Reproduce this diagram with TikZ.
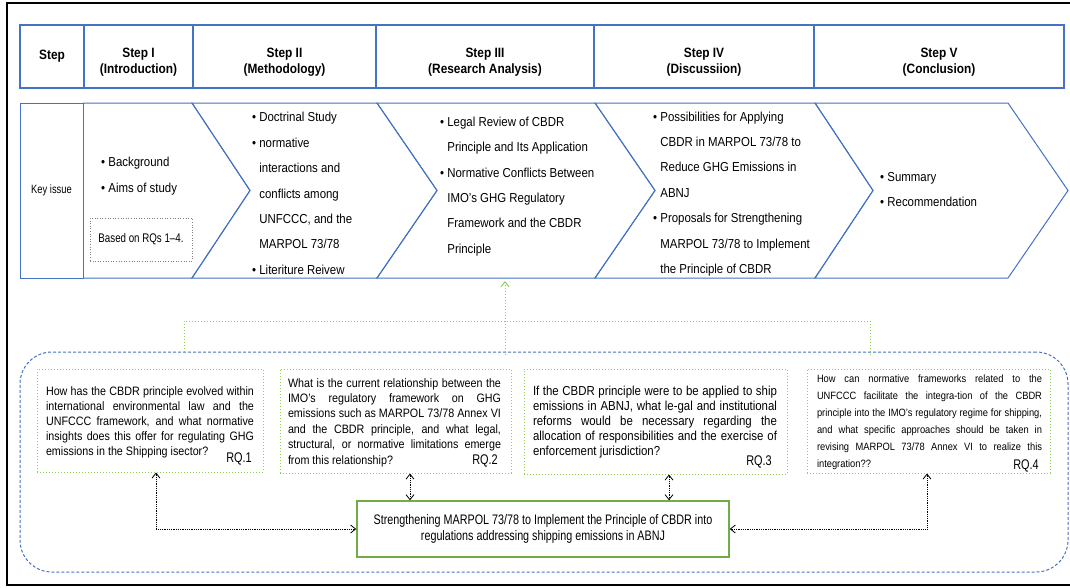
\documentclass[tikz,border=0pt]{standalone}
\usepackage{fontspec}
\setmainfont{Liberation Sans}[FakeStretch=0.88]
\newfontfamily\narrowsf{Liberation Sans}[FakeStretch=0.78]
\usetikzlibrary{arrows.meta}
\definecolor{stepblue}{HTML}{4472C4}
\definecolor{rqgreen}{HTML}{92D050}
\definecolor{coregreen}{HTML}{70AD47}
\tolerance=10000 \hbadness=10000
\hyphenpenalty=10000 \exhyphenpenalty=10000

\begin{document}
\begin{tikzpicture}[x=1pt, y=-1pt,
    head/.style = {draw=stepblue, line width=1.2pt, minimum height=63pt, inner sep=0pt},
    headtxt/.style = {align=center, inner sep=0pt, font=\fontsize{13.5}{16}\selectfont\bfseries},
    chev/.style = {draw=stepblue, line width=1pt, line join=miter},
    pts/.style = {anchor=west, inner sep=0pt, align=left, font=\fontsize{13}{25.4}\selectfont},
    rqbox/.style = {draw=rqgreen, dotted, line width=1pt, inner sep=0pt},
    rqtext/.style = {inner sep=0pt, align=justify},
    rqlab/.style = {anchor=east, inner sep=0pt, font=\narrowsf\fontsize{14}{16}\selectfont},
    link/.style = {densely dotted, line width=0.8pt,
        {Straight Barb[length=5pt,width=8pt]}-{Straight Barb[length=5pt,width=8pt]}},
    feed/.style = {draw=rqgreen, dotted, line width=1pt}]
    \useasboundingbox (0,0) rectangle (1070,587);
    \draw[line width=2pt] (7,3) rectangle (1080,585);

    % header row
    \node[head, minimum width=64pt] (h0) at (52,56.5) {};
    \node[headtxt] (t0) at (h0) {Step};
    \foreach \i/\cx/\w/\txt in {1/138.5/109/{Step I\\(Introduction)},
        2/284.5/183/{Step II\\(Methodology)}, 3/485/218/{Step III\\(Research Analysis)},
        4/704/220/{Step IV\\(Discussiion)}, 5/939/250/{Step V\\(Conclusion)}} {
        \node[head, minimum width=\w pt] (h\i) at (\cx,56.5) {};
        \node[headtxt] (t\i) at ([yshift=-5.5pt]h\i.center) {\txt};
    }

    % key issue row
    \node[chev, minimum width=63pt, minimum height=175pt, inner sep=0pt,
        font=\narrowsf\fontsize{12}{14}\selectfont] (key) at (51.5,190.5) {Key issue};
    \draw[chev] (83,103) -- (192,103) -- (250,190.5) -- (192,278) -- (83,278);
    \foreach \a/\b/\c/\d in {192/250/377/437, 377/437/595/655, 595/655/815/873, 815/873/1008/1068}
        \draw[chev] (\a,103) -- (\c,103) -- (\d,190.5) -- (\c,278) -- (\a,278) -- (\b,190.5) -- cycle;

    \node[pts] (p1) at (101,176) {\textbullet\ Background\\\textbullet\ Aims of study};
    \node[draw=gray, dotted, line width=0.6pt, minimum width=102pt, minimum height=43pt, inner sep=0pt,
        font=\narrowsf\fontsize{12.5}{14}\selectfont] (basis) at (141,239.5) {Based on RQs 1–4.};
    \node[pts] (p2) at (252,193.5) {\textbullet\ Doctrinal Study\\\textbullet\ normative\\
        \hphantom{\textbullet\ }interactions and\\\hphantom{\textbullet\ }conflicts among\\
        \hphantom{\textbullet\ }UNFCCC, and the\\\hphantom{\textbullet\ }MARPOL 73/78\\
        \textbullet\ Literiture Reivew};
    \node[pts] (p3) at (440,186.5) {\textbullet\ Legal Review of CBDR\\
        \hphantom{\textbullet\ }Principle and Its Application\\\textbullet\ Normative Conflicts Between\\
        \hphantom{\textbullet\ }IMO’s GHG Regulatory\\\hphantom{\textbullet\ }Framework and the CBDR\\
        \hphantom{\textbullet\ }Principle};
    \node[pts] (p4) at (653,194) {\textbullet\ Possibilities for Applying\\
        \hphantom{\textbullet\ }CBDR in MARPOL 73/78 to\\\hphantom{\textbullet\ }Reduce GHG Emissions in\\
        \hphantom{\textbullet\ }ABNJ\\\textbullet\ Proposals for Strengthening\\
        \hphantom{\textbullet\ }MARPOL 73/78 to Implement\\\hphantom{\textbullet\ }the Principle of CBDR};
    \node[pts] (p5) at (880,189.5) {\textbullet\ Summary\\\textbullet\ Recommendation};

    % research questions
    \node[draw=stepblue, dash pattern=on 3pt off 2pt, line width=1pt, rounded corners=32pt,
        minimum width=1048pt, minimum height=220pt] (rqzone) at (544,462) {};
    \coordinate (gl) at (184,352);
    \coordinate (gr) at (870,355);
    \coordinate (gm) at (505,355);
    \coordinate (gy) at (505,321);
    \coordinate (s3) at (505,281);
    \draw[feed] (gl) |- (gr |- gy) -- (gr);
    \draw[feed, -{Straight Barb[length=5pt,width=8pt]}] (gm) -- (s3);

    \node[rqbox, minimum width=226pt, minimum height=103pt] (rq1) at (150,420.5) {};
    \node[rqbox, minimum width=231pt, minimum height=104pt] (rq2) at (395.5,421) {};
    \node[rqbox, minimum width=263pt, minimum height=105pt] (rq3) at (655.5,421.5) {};
    \node[rqbox, minimum width=243pt, minimum height=104pt] (rq4) at (928.5,421) {};

    \node[rqtext, text width=208pt, font=\fontsize{12.2}{15}\selectfont] (q1) at (150,422)
        {How has the CBDR principle evolved within\linebreak international environmental law and the\linebreak
        UNFCCC framework, and what normative\linebreak insights does this offer for regulating GHG\linebreak
        emissions in the Shipping isector?};
    \node[rqtext, text width=213pt, font=\fontsize{12.2}{15.4}\selectfont] (q2) at (394.5,422.5)
        {What is the current relationship between the\linebreak IMO’s regulatory framework on GHG\linebreak
        emissions such as MARPOL 73/78 Annex VI\linebreak and the CBDR principle, and what legal,\linebreak
        structural, or normative limitations emerge\linebreak from this relationship?};
    \node[rqtext, text width=244pt, font=\fontsize{13}{15}\selectfont] (q3) at (655,422)
        {If the CBDR principle were to be applied to ship\linebreak emissions in ABNJ, what le-gal and institutional\linebreak
        reforms would be necessary regarding the\linebreak allocation of responsibilities and the exercise of\linebreak
        enforcement jurisdiction?};
    \node[rqtext, text width=225pt, font=\fontsize{10.6}{17}\selectfont] (q4) at (929.5,422.5)
        {How can normative frameworks related to the\linebreak UNFCCC facilitate the integra-tion of the CBDR\linebreak
        principle into the IMO’s regulatory regime for shipping,\linebreak and what specific approaches should be taken in\linebreak
        revising MARPOL 73/78 Annex VI to realize this\linebreak integration??};

    \node[rqlab] (l1) at (252,459) {RQ.1};
    \node[rqlab] (l2) at (498,461) {RQ.2};
    \node[rqlab] (l3) at (772,462) {RQ.3};
    \node[rqlab] (l4) at (1039,466) {RQ.4};

    \node[draw=coregreen, line width=1.5pt, minimum width=372pt, minimum height=56pt, inner sep=0pt,
        align=center, font=\narrowsf\fontsize{13.8}{16.5}\selectfont] (core) at (543,529)
        {Strengthening MARPOL 73/78 to Implement the Principle of CBDR into\\
        regulations addressing shipping emissions in ABNJ};

    \coordinate (a1) at ([xshift=6pt]rq1.south);
    \coordinate (a2) at ([xshift=14.5pt]rq2.south);
    \coordinate (a3) at ([xshift=13.5pt]rq3.south);
    \coordinate (a4) at ([xshift=-1.5pt]rq4.south);
    \draw[link] (a1) |- (core.west);
    \draw[link] (a2) -- (a2 |- core.north);
    \draw[link] (a3) -- (a3 |- core.north);
    \draw[link] (a4) |- (core.east);
\end{tikzpicture}
\end{document}
